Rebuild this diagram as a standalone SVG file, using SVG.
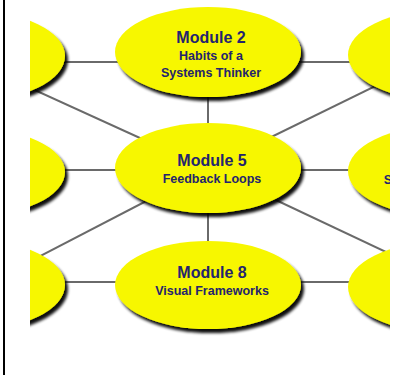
<svg xmlns="http://www.w3.org/2000/svg" width="396" height="375" viewBox="0 0 396 375">
<style>
.bg{fill:#ffffff}
.edge{stroke:#6a6a6a;stroke-width:2;fill:none}
.node{fill:#f7f700;filter:url(#sh)}
.t1{font-family:"Liberation Sans",Arial,sans-serif;font-weight:bold;font-size:16px;fill:#24246e;text-anchor:middle}
.t2{font-family:"Liberation Sans",Arial,sans-serif;font-weight:bold;font-size:12.5px;fill:#24246e;text-anchor:middle}
.frame{stroke:#000;stroke-width:2}
</style>
<defs>
<filter id="sh" x="-20%" y="-20%" width="140%" height="150%">
<feOffset in="SourceAlpha" dx="3" dy="4" result="o"/>
<feGaussianBlur in="o" stdDeviation="1.8" result="b"/>
<feComponentTransfer in="b" result="s"><feFuncA type="linear" slope="0.95"/></feComponentTransfer>
<feMerge><feMergeNode in="s"/><feMergeNode in="SourceGraphic"/></feMerge>
</filter>
<clipPath id="clip"><rect x="30" y="0" width="360" height="375"/></clipPath>
</defs>
<rect class="bg" x="0" y="0" width="396" height="375"/>
<line class="frame" x1="4" y1="0" x2="4" y2="375"/>
<g clip-path="url(#clip)">
<g id="connectors">
<line class="edge" x1="60" y1="62" x2="120" y2="62"/>
<line class="edge" x1="296" y1="62" x2="352" y2="62"/>
<line class="edge" x1="60" y1="170" x2="120" y2="170"/>
<line class="edge" x1="296" y1="170" x2="352" y2="170"/>
<line class="edge" x1="60" y1="282" x2="120" y2="282"/>
<line class="edge" x1="296" y1="282" x2="352" y2="282"/>
<line class="edge" x1="208" y1="90" x2="208" y2="130"/>
<line class="edge" x1="208" y1="205" x2="208" y2="248"/>
<line class="edge" x1="-27" y1="62" x2="208" y2="169"/>
<line class="edge" x1="443" y1="53" x2="208" y2="168"/>
<line class="edge" x1="-27" y1="291" x2="208" y2="169"/>
<line class="edge" x1="443" y1="279" x2="208" y2="168"/>
</g>
<g id="node-top-left"><ellipse class="node" cx="-28" cy="56" rx="93" ry="45"/></g>
<g id="node-top-right"><ellipse class="node" cx="441" cy="55" rx="93" ry="45"/></g>
<g id="node-mid-left"><ellipse class="node" cx="-28" cy="172" rx="93" ry="44"/></g>
<g id="node-mid-right"><ellipse class="node" cx="441" cy="171" rx="93" ry="45"/>
<text class="t2" x="388" y="184">S</text></g>
<g id="node-bot-left"><ellipse class="node" cx="-28" cy="285" rx="93" ry="45"/></g>
<g id="node-bot-right"><ellipse class="node" cx="441" cy="287" rx="93" ry="45"/></g>
</g>
<g id="module2">
<ellipse class="node" cx="208" cy="52" rx="93" ry="45"/>
<text class="t1" x="211" y="43">Module 2</text>
<text class="t2" x="211" y="60">Habits of a</text>
<text class="t2" x="211" y="77">Systems Thinker</text>
</g>
<g id="module5">
<ellipse class="node" cx="208" cy="168" rx="93" ry="45"/>
<text class="t1" x="212" y="166">Module 5</text>
<text class="t2" x="212" y="183">Feedback Loops</text>
</g>
<g id="module8">
<ellipse class="node" cx="208" cy="285" rx="93" ry="44"/>
<text class="t1" x="212" y="278">Module 8</text>
<text class="t2" x="212" y="295">Visual Frameworks</text>
</g>
</svg>
